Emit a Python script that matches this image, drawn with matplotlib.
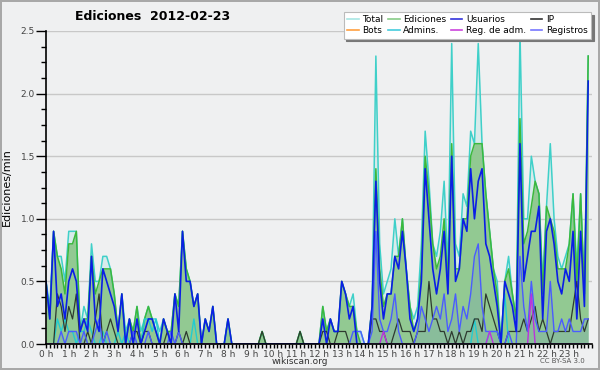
import matplotlib
matplotlib.use("Agg")
import matplotlib.pyplot as plt
from matplotlib.lines import Line2D
from matplotlib.ticker import MultipleLocator, FixedLocator

# edits per minute, 10-minute slots (6 per hour, 144 per day)
total = [
    0.5, 0.3, 0.9, 0.7, 0.7, 0.5,  0.9, 0.9, 0.9, 0.1, 0.3, 0.2,   # 0-1 h
    0.8, 0.5, 0.5, 0.7, 0.7, 0.6,  0.4, 0.1, 0.4, 0.1, 0.2, 0.1,   # 2-3 h
    0.3, 0.1, 0.2, 0.3, 0.2, 0.2,  0.1, 0.2, 0.1, 0.1, 0.4, 0.3,   # 4-5 h
    0.9, 0.6, 0.5, 0.3, 0.4, 0.0,  0.2, 0.1, 0.3, 0.0, 0.0, 0.0,   # 6-7 h
    0.2, 0.0, 0.0, 0.0, 0.0, 0.0,  0.0, 0.0, 0.0, 0.1, 0.0, 0.0,   # 8-9 h
    0.0, 0.0, 0.0, 0.0, 0.0, 0.0,  0.0, 0.1, 0.0, 0.0, 0.0, 0.0,   # 10-11 h
    0.0, 0.3, 0.1, 0.2, 0.1, 0.1,  0.5, 0.4, 0.3, 0.4, 0.1, 0.1,   # 12-13 h
    0.0, 0.0, 0.3, 2.3, 0.8, 0.4,  0.5, 0.6, 1.0, 0.7, 1.0, 0.6,   # 14-15 h
    0.3, 0.2, 0.3, 0.8, 1.7, 1.3,  0.8, 0.7, 0.9, 1.3, 0.6, 2.4,   # 16-17 h
    0.8, 0.7, 1.2, 1.1, 1.7, 1.6,  2.4, 1.6, 1.2, 0.9, 0.6, 0.5,   # 18-19 h
    0.0, 0.5, 0.7, 0.4, 0.2, 2.5,  1.0, 1.0, 1.5, 1.3, 1.2, 0.5,   # 20-21 h
    1.1, 1.6, 1.0, 0.7, 0.6, 0.7,  0.8, 1.2, 0.6, 1.2, 0.4, 2.3,   # 22-23 h
]
ediciones = [
    0.5, 0.2, 0.9, 0.7, 0.6, 0.4,  0.8, 0.8, 0.9, 0.1, 0.2, 0.2,
    0.7, 0.4, 0.5, 0.6, 0.6, 0.6,  0.4, 0.1, 0.4, 0.0, 0.2, 0.1,
    0.3, 0.0, 0.2, 0.3, 0.2, 0.1,  0.0, 0.2, 0.1, 0.1, 0.4, 0.3,
    0.9, 0.6, 0.5, 0.3, 0.4, 0.0,  0.2, 0.1, 0.3, 0.0, 0.0, 0.0,
    0.2, 0.0, 0.0, 0.0, 0.0, 0.0,  0.0, 0.0, 0.0, 0.1, 0.0, 0.0,
    0.0, 0.0, 0.0, 0.0, 0.0, 0.0,  0.0, 0.1, 0.0, 0.0, 0.0, 0.0,
    0.0, 0.3, 0.1, 0.2, 0.1, 0.1,  0.5, 0.4, 0.3, 0.3, 0.1, 0.0,
    0.0, 0.0, 0.3, 1.4, 0.6, 0.3,  0.4, 0.4, 0.7, 0.7, 1.0, 0.6,
    0.3, 0.1, 0.2, 0.6, 1.5, 1.2,  0.8, 0.6, 0.7, 1.0, 0.5, 1.6,
    0.6, 0.6, 1.0, 1.0, 1.5, 1.6,  1.6, 1.6, 1.2, 0.9, 0.6, 0.4,
    0.0, 0.5, 0.6, 0.4, 0.2, 1.8,  0.8, 0.9, 1.1, 1.3, 1.2, 0.4,
    1.1, 1.0, 0.9, 0.6, 0.6, 0.6,  0.8, 1.2, 0.5, 1.2, 0.4, 2.3,
]
usuarios = [
    0.5, 0.2, 0.9, 0.3, 0.4, 0.2,  0.5, 0.6, 0.5, 0.1, 0.2, 0.1,
    0.7, 0.2, 0.1, 0.6, 0.5, 0.4,  0.3, 0.1, 0.4, 0.0, 0.2, 0.0,
    0.2, 0.0, 0.1, 0.2, 0.2, 0.1,  0.0, 0.2, 0.1, 0.0, 0.4, 0.1,
    0.9, 0.5, 0.5, 0.3, 0.4, 0.0,  0.2, 0.1, 0.3, 0.0, 0.0, 0.0,
    0.2, 0.0, 0.0, 0.0, 0.0, 0.0,  0.0, 0.0, 0.0, 0.0, 0.0, 0.0,
    0.0, 0.0, 0.0, 0.0, 0.0, 0.0,  0.0, 0.0, 0.0, 0.0, 0.0, 0.0,
    0.0, 0.2, 0.0, 0.2, 0.1, 0.1,  0.5, 0.4, 0.2, 0.3, 0.0, 0.0,
    0.0, 0.0, 0.3, 1.3, 0.5, 0.2,  0.4, 0.4, 0.7, 0.6, 0.9, 0.6,
    0.2, 0.1, 0.2, 0.5, 1.4, 1.0,  0.6, 0.4, 0.6, 0.9, 0.4, 1.5,
    0.5, 0.6, 1.0, 0.9, 1.4, 1.0,  1.3, 1.4, 0.8, 0.7, 0.5, 0.3,
    0.0, 0.5, 0.4, 0.3, 0.1, 1.6,  0.5, 0.7, 0.9, 0.9, 1.1, 0.2,
    0.9, 1.0, 0.8, 0.5, 0.4, 0.6,  0.5, 0.9, 0.2, 0.9, 0.3, 2.1,
]
ip = [
    0.0, 0.0, 0.0, 0.4, 0.3, 0.1,  0.3, 0.2, 0.4, 0.0, 0.0, 0.1,
    0.0, 0.2, 0.4, 0.0, 0.1, 0.2,  0.1, 0.0, 0.0, 0.0, 0.0, 0.1,
    0.1, 0.0, 0.1, 0.1, 0.0, 0.0,  0.0, 0.0, 0.1, 0.0, 0.0, 0.1,
    0.0, 0.1, 0.0, 0.0, 0.0, 0.0,  0.0, 0.0, 0.0, 0.0, 0.0, 0.0,
    0.0, 0.0, 0.0, 0.0, 0.0, 0.0,  0.0, 0.0, 0.0, 0.1, 0.0, 0.0,
    0.0, 0.0, 0.0, 0.0, 0.0, 0.0,  0.0, 0.1, 0.0, 0.0, 0.0, 0.0,
    0.0, 0.1, 0.1, 0.0, 0.0, 0.1,  0.1, 0.1, 0.0, 0.0, 0.0, 0.0,
    0.0, 0.0, 0.2, 0.2, 0.1, 0.1,  0.0, 0.0, 0.1, 0.2, 0.1, 0.1,
    0.1, 0.0, 0.1, 0.1, 0.1, 0.5,  0.2, 0.2, 0.1, 0.1, 0.0, 0.1,
    0.0, 0.1, 0.0, 0.1, 0.1, 0.2,  0.2, 0.1, 0.4, 0.3, 0.2, 0.1,
    0.0, 0.0, 0.1, 0.1, 0.1, 0.1,  0.2, 0.1, 0.2, 0.3, 0.1, 0.2,
    0.1, 0.0, 0.1, 0.1, 0.1, 0.1,  0.1, 0.3, 0.5, 0.2, 0.1, 0.2,
]
admins = [
    0.0, 0.0, 0.0, 0.2, 0.1, 0.2,  0.1, 0.1, 0.0, 0.1, 0.1, 0.2,
    0.1, 0.0, 0.0, 0.1, 0.0, 0.0,  0.0, 0.1, 0.0, 0.1, 0.0, 0.0,
    0.0, 0.0, 0.2, 0.2, 0.1, 0.2,  0.0, 0.0, 0.0, 0.0, 0.0, 0.0,
    0.0, 0.0, 0.0, 0.2, 0.0, 0.0,  0.0, 0.0, 0.0, 0.0, 0.0, 0.0,
    0.0, 0.0, 0.0, 0.0, 0.0, 0.0,  0.0, 0.0, 0.0, 0.0, 0.0, 0.0,
    0.0, 0.0, 0.0, 0.0, 0.0, 0.0,  0.0, 0.0, 0.0, 0.0, 0.0, 0.0,
    0.0, 0.0, 0.0, 0.0, 0.0, 0.0,  0.0, 0.0, 0.0, 0.0, 0.0, 0.0,
    0.0, 0.0, 0.0, 0.0, 0.0, 0.0,  0.0, 0.0, 0.0, 0.0, 0.0, 0.0,
    0.0, 0.0, 0.0, 0.0, 0.0, 0.0,  0.0, 0.0, 0.0, 0.0, 0.0, 0.0,
    0.0, 0.0, 0.0, 0.0, 0.0, 0.2,  0.0, 0.0, 0.0, 0.1, 0.1, 0.1,
    0.0, 0.4, 0.0, 0.0, 0.0, 0.0,  0.0, 0.0, 0.0, 0.0, 0.0, 0.0,
    0.0, 0.0, 0.0, 0.0, 0.0, 0.0,  0.0, 0.0, 0.0, 0.0, 0.0, 0.0,
]
registros = [
    0.0, 0.0, 0.0, 0.0, 0.1, 0.0,  0.1, 0.1, 0.1, 0.0, 0.1, 0.0,
    0.0, 0.1, 0.2, 0.0, 0.1, 0.0,  0.0, 0.0, 0.0, 0.0, 0.0, 0.1,
    0.0, 0.0, 0.0, 0.1, 0.0, 0.0,  0.0, 0.0, 0.0, 0.1, 0.0, 0.1,
    0.0, 0.0, 0.0, 0.0, 0.0, 0.0,  0.0, 0.0, 0.0, 0.0, 0.0, 0.0,
    0.0, 0.0, 0.0, 0.0, 0.0, 0.0,  0.0, 0.0, 0.0, 0.0, 0.0, 0.0,
    0.0, 0.0, 0.0, 0.0, 0.0, 0.0,  0.0, 0.0, 0.0, 0.0, 0.0, 0.0,
    0.0, 0.0, 0.0, 0.0, 0.0, 0.0,  0.0, 0.0, 0.0, 0.1, 0.1, 0.1,
    0.0, 0.0, 0.1, 0.9, 0.2, 0.1,  0.1, 0.2, 0.4, 0.1, 0.0, 0.0,
    0.0, 0.0, 0.1, 0.3, 0.2, 0.1,  0.2, 0.3, 0.2, 0.4, 0.1, 0.2,
    0.4, 0.1, 0.3, 0.2, 0.4, 0.7,  0.8, 0.3, 0.1, 0.1, 0.1, 0.1,
    0.0, 0.0, 0.1, 0.0, 0.0, 0.7,  0.3, 0.1, 0.5, 0.2, 0.1, 0.1,
    0.1, 0.5, 0.1, 0.1, 0.2, 0.1,  0.2, 0.1, 0.1, 0.1, 0.2, 0.2,
]
reg_adm = [0.0] * 89 + [0.1] + [0.0] * 27 + [0.1] + [0.0] * 10 + [0.4] + [0.0] * 15

LEGEND = [  # column-major for a 4-column legend
    ('Total',        '#a8e6e4'),
    ('Bots',         '#ffa040'),
    ('Ediciones',    '#88cc88'),
    ('Admins.',      '#44ccdd'),
    ('Usuarios',     '#3333dd'),
    ('Reg. de adm.', '#cc44dd'),
    ('IP',           '#333333'),
    ('Registros',    '#7777ff'),
]

BG = '#eff0f1'

fig = plt.figure(figsize=(6, 3.7), dpi=100, facecolor=BG,
                 edgecolor='#a8a8a8', linewidth=1.5)
ax = fig.add_axes([46 / 600, 26 / 370, 546 / 600, 313 / 370])
ax.set_facecolor(BG)

x = list(range(len(total)))

# filled areas
ax.fill_between(x, total, color='#40d0c8', alpha=0.13, lw=0, zorder=1)
ax.fill_between(x, ediciones, color='#92c992', lw=0, zorder=2)
ax.fill_between(x, registros, color='#5a7fd0', alpha=0.15, lw=0, zorder=2.5)

# lines
ax.plot(x, total, color='#3fd0c9', lw=1.1, zorder=3)
ax.plot(x, ediciones, color='#3cb83c', lw=1.1, zorder=4)
ax.plot(x, admins, color='#22ccd0', lw=1.0, zorder=5)
ax.plot(x, ip, color='#2e3a30', lw=0.9, zorder=5)
ax.plot(x, registros, color='#4a5cff', lw=1.0, zorder=5)
ax.plot(x, reg_adm, color='#bb33dd', lw=1.0, zorder=5)
ax.plot(x, usuarios, color='#0a1ee6', lw=1.2, zorder=6)

ax.set_xlim(0, 144)
ax.set_ylim(0, 2.5)

for side in ('top', 'right'):
    ax.spines[side].set_visible(False)
for side in ('left', 'bottom'):
    ax.spines[side].set_color('black')
    ax.spines[side].set_linewidth(1.2)
    ax.spines[side].set_zorder(8)

ax.yaxis.set_minor_locator(MultipleLocator(0.125))
ax.set_yticks([0, 0.5, 1.0, 1.5, 2.0, 2.5])
ax.set_yticklabels(['0.0', '0.5', '1.0', '1.5', '2.0', '2.5'])
ax.xaxis.set_major_locator(FixedLocator([h * 6 for h in range(24)]))
ax.set_xticklabels([f'{h} h' for h in range(24)])
ax.xaxis.set_minor_locator(MultipleLocator(1))

ax.tick_params(axis='y', which='major', length=7, width=1, labelsize=6.5,
               labelcolor='#444444', pad=1)
ax.tick_params(axis='y', which='minor', length=3.5, width=1)
ax.tick_params(axis='x', which='both', length=3, width=1, labelsize=6.5,
               labelcolor='#444444', pad=1)

ax.yaxis.grid(True, color='#c8c8c8', lw=1)
ax.set_axisbelow(True)

ax.set_ylabel('Ediciones/min', fontsize=8)
ax.yaxis.set_label_coords(-0.062, 0.5)

fig.text(153 / 600, 1 - 17 / 370, 'Ediciones  2012-02-23', ha='center',
         va='center', fontsize=9, fontweight='bold')
fig.text(300 / 600, 1 - 362 / 370, 'wikiscan.org', ha='center', va='center',
         fontsize=6.5, color='#333333')
fig.text(562 / 600, 1 - 361 / 370, 'CC BY-SA 3.0', ha='center', va='center',
         fontsize=5, color='#555555')

handles = [Line2D([], [], color=c, lw=1.2) for _, c in LEGEND]
labels = [name for name, _ in LEGEND]
leg = ax.legend(handles, labels, ncol=4, loc='upper right',
                bbox_to_anchor=(591 / 600, 1 - 12 / 370),
                bbox_transform=fig.transFigure, fontsize=6.5, frameon=True,
                fancybox=False, shadow={'color': '#777777', 'alpha': 1},
                handlelength=1.3, handletextpad=0.4, columnspacing=0.5,
                labelspacing=0.25, borderpad=0.35, borderaxespad=0)
leg.get_frame().set_edgecolor('#bbbbbb')
leg.get_frame().set_linewidth(0.8)
leg.set_zorder(10)

fig.savefig('out.png', dpi=100)
